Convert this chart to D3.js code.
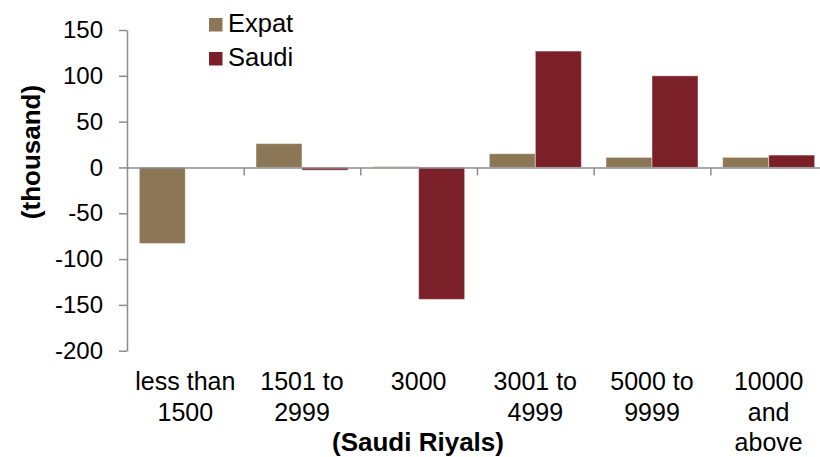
<!DOCTYPE html>
<meta charset="utf-8">
<style>
body { margin: 0; background: #fff; }
text { font-family: "Liberation Sans", Arial, sans-serif; fill: #000; }
.axis path, .axis line { stroke: #8c8c8c; stroke-width: 1.5px; }
</style>
<body>
<script src="https://cdn.jsdelivr.net/npm/d3@7/dist/d3.min.js"></script>
<script>

// data (thousand)
var categories = [["less than", "1500"], ["1501 to", "2999"], ["3000"], ["3001 to", "4999"], ["5000 to", "9999"], ["10000", "and", "above"]];
var expat = [-83, 26, 1, 15, 11, 11];
var saudi = [0, -3, -144, 127, 100, 13.5];
var seriesNames = ["Expat", "Saudi"];
var colors = ["#8b7755", "#7b2029"];
var yTicks = [-200, -150, -100, -50, 0, 50, 100, 150];

var width = 820, height = 457;
var plotLeft = 127, plotRight = 827, plotTop = 30, plotBottom = 350.7;

var svg = d3.select("body").append("svg")
    .attr("width", width)
    .attr("height", height);

var y = d3.scaleLinear().domain([-200, 150]).range([plotBottom, plotTop]);
var x = d3.scaleBand().domain(d3.range(categories.length)).range([plotLeft, plotRight]).paddingInner(0).paddingOuter(0);
var xLin = d3.scaleLinear().domain([0, categories.length]).range([plotLeft, plotRight]);
var inner = d3.scaleBand().domain([0, 1]).range([0, x.bandwidth()]).paddingOuter(0.268).paddingInner(0);

// bars
var series = [expat, saudi];
series.forEach(function(vals, s) {
  svg.append("g").selectAll("rect")
    .data(vals)
    .enter().append("rect")
      .attr("x", function(d, i) { return x(i) + inner(s); })
      .attr("width", inner.bandwidth())
      .attr("y", function(d) { return y(Math.max(0, d)); })
      .attr("height", function(d) { return Math.abs(y(d) - y(0)); })
      .attr("fill", colors[s])
      .attr("stroke", "#fff")
      .attr("stroke-opacity", 0.45)
      .attr("stroke-width", 1);
});

// y axis
var yAxis = svg.append("g")
    .attr("class", "axis")
    .attr("transform", "translate(" + plotLeft + ",0)")
    .call(d3.axisLeft(y).tickValues(yTicks).tickFormat(function(d) { return String(d); })
      .tickSize(8).tickSizeOuter(0).tickPadding(16));
yAxis.selectAll("text").style("font-size", "24px").attr("fill", "#000");

// x axis at zero
var xAxis = svg.append("g")
    .attr("class", "axis")
    .attr("transform", "translate(0," + y(0) + ")")
    .call(d3.axisBottom(xLin).tickValues(d3.range(1, categories.length)).tickFormat("").tickSize(8).tickSizeOuter(0));

// category labels
var lab = svg.append("g").selectAll("text")
    .data(categories)
    .enter().append("text")
      .attr("text-anchor", "middle")
      .style("font-size", "25px")
      .attr("x", function(d, i) { return x(i) + x.bandwidth() / 2; })
      .attr("y", 390);
lab.selectAll("tspan")
    .data(function(d) { return d; })
    .enter().append("tspan")
      .attr("x", function() { return d3.select(this.parentNode).attr("x"); })
      .attr("dy", function(d, i) { return i === 0 ? 0 : 30.5; })
      .text(function(d) { return d; });

// axis titles
svg.append("text")
    .attr("text-anchor", "middle")
    .attr("transform", "translate(40,152) rotate(-90)")
    .style("font-size", "26px")
    .style("font-weight", "bold")
    .text("(thousand)");

svg.append("text")
    .attr("text-anchor", "middle")
    .attr("x", 418)
    .attr("y", 451)
    .style("font-size", "26px")
    .style("font-weight", "bold")
    .text("(Saudi Riyals)");

// legend
var legend = svg.append("g").selectAll("g")
    .data(seriesNames)
    .enter().append("g")
      .attr("transform", function(d, i) { return "translate(209," + (18 + i * 34) + ")"; });
legend.append("rect")
    .attr("width", 13.5)
    .attr("height", 13.5)
    .attr("fill", function(d, i) { return colors[i]; });
legend.append("text")
    .attr("x", 19)
    .attr("y", 14)
    .style("font-size", "25.5px")
    .text(function(d) { return d; });
</script>
</body>
